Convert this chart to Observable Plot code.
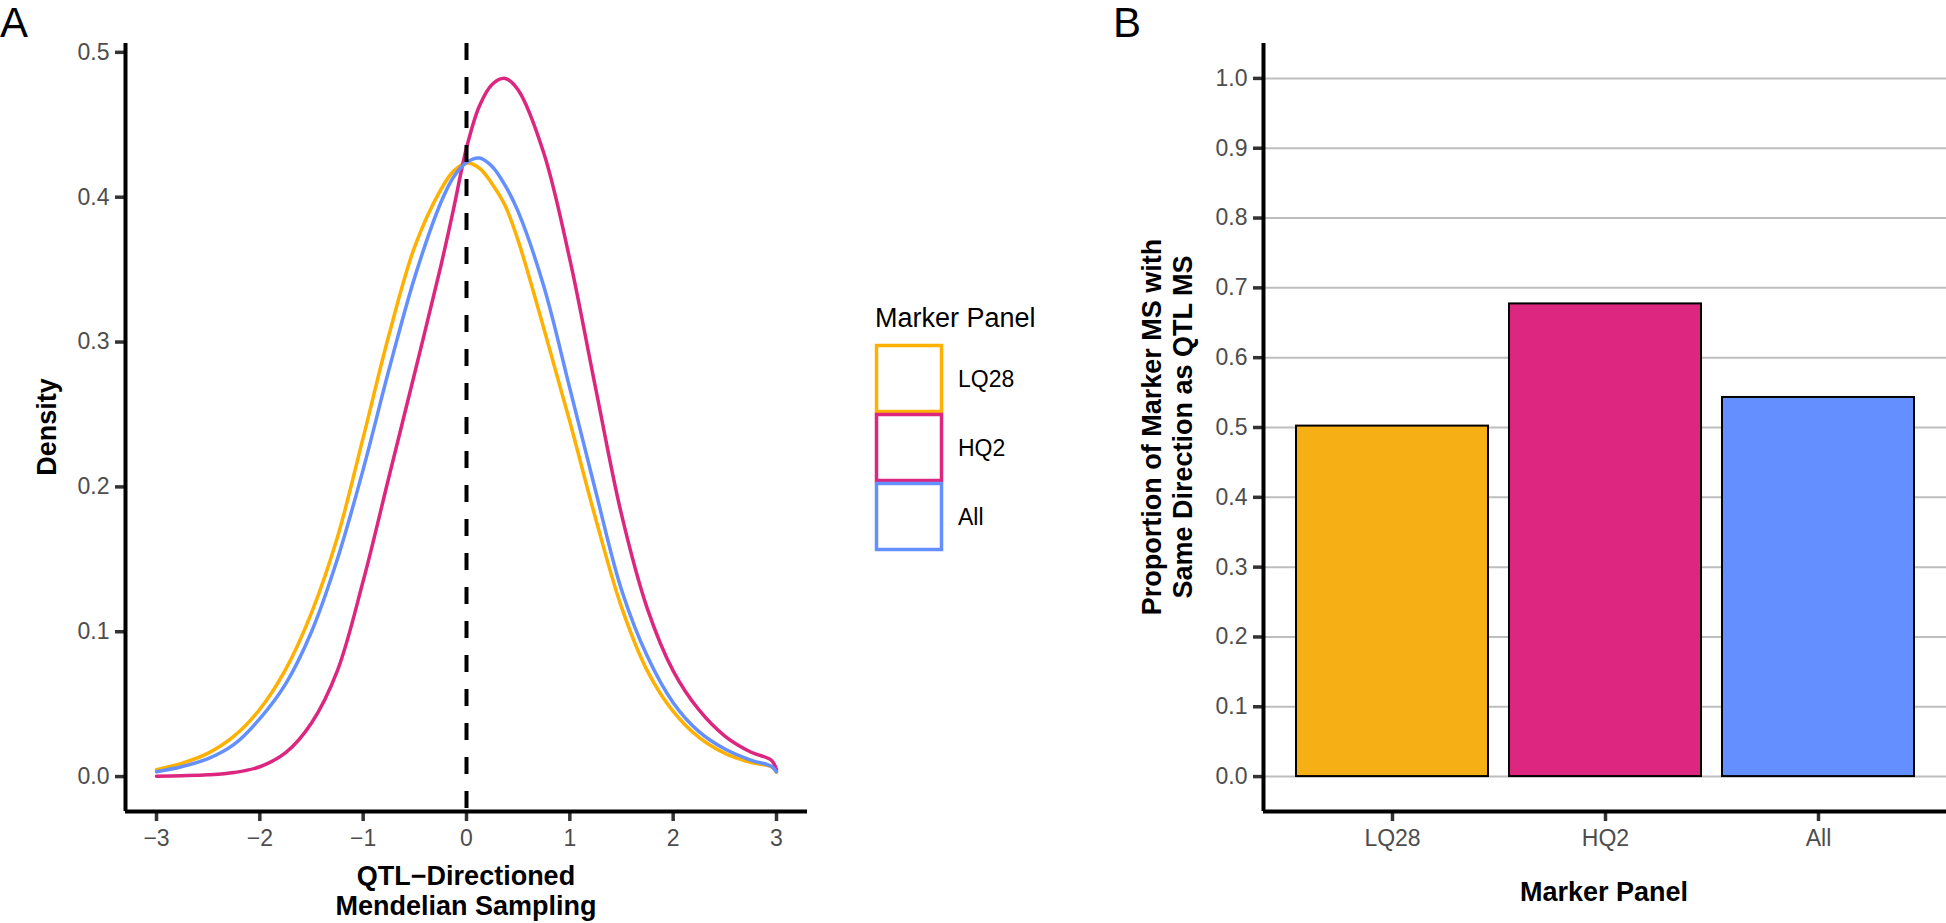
<!DOCTYPE html>
<html>
<head>
<meta charset="utf-8">
<script src="https://cdn.jsdelivr.net/npm/d3@7"></script>
<script src="https://cdn.jsdelivr.net/npm/@observablehq/plot@0.6"></script>
<style>
  html, body { margin: 0; padding: 0; background: #fff; }
  #root { position: relative; width: 1946px; height: 923px; overflow: hidden;
          font-family: "Liberation Sans", Arial, Helvetica, sans-serif; }
  .abs { position: absolute; }
  .title { position: absolute; font-weight: bold; font-size: 27px; color: #000;
           white-space: nowrap; text-align: center; line-height: 30px; }
  .tag { position: absolute; font-size: 42px; color: #000; line-height: 1; }
</style>
</head>
<body>
<div id="root"></div>
<script>
// ---------------- data ----------------
const panels = ["LQ28", "HQ2", "All"];
const lineColors = ["#FFB000", "#DC267F", "#648FFF"];
const barColors = ["#F6B016", "#DC267F", "#648FFF"];

// QTL-directioned Mendelian sampling grid (x) and density
const msX = [-3, -2.75, -2.5, -2.25, -2, -1.75, -1.5, -1.25, -1, -0.75, -0.5, -0.25, -0.125,
             0, 0.125, 0.25, 0.375, 0.5, 0.75, 1, 1.25, 1.5, 1.75, 2, 2.25, 2.5, 2.75, 2.95, 3];
const densLQ28 = [0.0048, 0.0093, 0.0162, 0.0279, 0.0465, 0.074, 0.113, 0.165, 0.234, 0.305, 0.366, 0.405, 0.418,
                  0.4235, 0.420, 0.409, 0.394, 0.370, 0.309, 0.245, 0.178, 0.117, 0.073, 0.045, 0.027, 0.016, 0.0098, 0.0068, 0.003];
const densHQ2  = [0.0003, 0.0006, 0.0012, 0.0028, 0.0068, 0.0165, 0.037, 0.073, 0.135, 0.207, 0.279, 0.352, 0.392,
                  0.434, 0.463, 0.478, 0.482, 0.474, 0.430, 0.357, 0.268, 0.181, 0.116, 0.073, 0.046, 0.028, 0.017, 0.0113, 0.0048];
const densAll  = [0.0034, 0.007, 0.0124, 0.0222, 0.040, 0.064, 0.100, 0.150, 0.212, 0.281, 0.345, 0.396, 0.414,
                  0.424, 0.427, 0.421, 0.408, 0.390, 0.338, 0.268, 0.197, 0.129, 0.083, 0.051, 0.031, 0.019, 0.0114, 0.0071, 0.0034];

// proportion of marker MS with same direction as QTL MS
const propSame = [0.502, 0.677, 0.543];

// tick labels
const densTicksX = [-3, -2, -1, 0, 1, 2, 3];
const densTicksY = [0.0, 0.1, 0.2, 0.3, 0.4, 0.5];
const propTicksY = [0.0, 0.1, 0.2, 0.3, 0.4, 0.5, 0.6, 0.7, 0.8, 0.9, 1.0];

// ---------------- build ----------------
const FONT = '"Liberation Sans", Arial, Helvetica, sans-serif';
const root = document.getElementById("root");

const densSeries = [densLQ28, densHQ2, densAll];
const densData = [];
panels.forEach((p, i) => msX.forEach((x, j) => densData.push({panel: p, x, y: densSeries[i][j]})));
const barData = panels.map((p, i) => ({panel: p, value: propSame[i]}));

// ggplot-like expanded domains
const xExt = d3.extent(msX);
const xPad = (xExt[1] - xExt[0]) * 0.05;
const xDomA = [xExt[0] - xPad, xExt[1] + xPad];
const yMaxA = d3.max(densData, d => d.y);
const yDomA = [-yMaxA * 0.05, yMaxA * 1.05];
const yDomB = [propTicksY[0] - 0.05, propTicksY[propTicksY.length - 1] + 0.05];

const axisStyle = {
  fontFamily: FONT, fontSize: "23px", color: "#4d4d4d",
  background: "transparent", overflow: "visible"
};

const plotA = Plot.plot({
  width: 830, height: 923,
  marginLeft: 125, marginRight: 23, marginTop: 43, marginBottom: 112,
  x: {domain: xDomA},
  y: {domain: yDomA},
  color: {domain: panels, range: lineColors},
  style: axisStyle,
  marks: [
    Plot.line(densData, {x: "x", y: "y", z: "panel", stroke: "panel", strokeWidth: 3.5, curve: "catmull-rom"}),
    Plot.ruleX([0], {stroke: "#000", strokeWidth: 4, strokeDasharray: "17,17"}),
    Plot.axisX(densTicksX, {tickSize: 10, tickPadding: 8, stroke: "#333", strokeWidth: 3.5, fill: "#4d4d4d", label: null}),
    Plot.axisY(densTicksY, {tickSize: 10, tickPadding: 6, stroke: "#333", strokeWidth: 3.5, fill: "#4d4d4d",
                            tickFormat: d3.format(".1f"), label: null}),
    Plot.ruleX([xDomA[0]], {stroke: "#000", strokeWidth: 4}),
    Plot.ruleY([yDomA[0]], {stroke: "#000", strokeWidth: 4})
  ]
});
plotA.classList.add("abs");
plotA.style.left = "0px";
plotA.style.top = "0px";
root.appendChild(plotA);

const plotB = Plot.plot({
  width: 846, height: 923,
  marginLeft: 163, marginRight: 0, marginTop: 43, marginBottom: 112,
  x: {domain: panels, paddingInner: 0.1, paddingOuter: 0.15},
  y: {domain: yDomB},
  color: {domain: panels, range: barColors},
  style: axisStyle,
  marks: [
    Plot.gridY(propTicksY, {stroke: "#bebebe", strokeOpacity: 1, strokeWidth: 2}),
    Plot.barY(barData, {x: "panel", y: "value", fill: "panel", stroke: "#000", strokeWidth: 2}),
    Plot.axisX(panels, {tickSize: 10, tickPadding: 8, stroke: "#333", strokeWidth: 3.5, fill: "#4d4d4d", label: null}),
    Plot.axisY(propTicksY, {tickSize: 10, tickPadding: 6, stroke: "#333", strokeWidth: 3.5, fill: "#4d4d4d",
                            tickFormat: d3.format(".1f"), label: null}),
    Plot.ruleY([yDomB[0]], {stroke: "#000", strokeWidth: 4})
  ]
});
plotB.classList.add("abs");
plotB.style.left = "1100px";
plotB.style.top = "0px";
root.appendChild(plotB);

// y-axis line of panel B (left frame edge)
const frameB = Plot.plot({
  width: 846, height: 923,
  marginLeft: 163, marginRight: 0, marginTop: 43, marginBottom: 112,
  x: {domain: [0, 1]}, y: {domain: yDomB}, axis: null,
  style: {background: "transparent", overflow: "visible"},
  marks: [Plot.ruleX([0], {stroke: "#000", strokeWidth: 4})]
});
frameB.classList.add("abs");
frameB.style.left = "1100px";
frameB.style.top = "0px";
root.appendChild(frameB);

// legend
const legend = d3.select(root).append("svg")
  .attr("class", "abs").style("left", "0px").style("top", "0px")
  .attr("width", 1946).attr("height", 923)
  .style("font-family", FONT);
legend.append("text").attr("x", 875).attr("y", 327)
  .attr("font-size", 27).attr("fill", "#000").text("Marker Panel");
const keyH = 69, keyTop = 344;
panels.forEach((p, i) => {
  legend.append("rect").attr("x", 876.5).attr("y", keyTop + i * keyH + 1.5)
    .attr("width", 65).attr("height", keyH - 3)
    .attr("fill", "#fff").attr("stroke", lineColors[i]).attr("stroke-width", 3.5);
  legend.append("text").attr("x", 958).attr("y", keyTop + i * keyH + keyH / 2 + 8)
    .attr("font-size", 23).attr("fill", "#000").text(p);
});

// titles & panel tags
function addDiv(cls, html, css) {
  const d = document.createElement("div");
  d.className = cls; d.innerHTML = html;
  Object.assign(d.style, css);
  root.appendChild(d);
}
addDiv("tag", "A", {left: "0px", top: "2px"});
addDiv("tag", "B", {left: "1113px", top: "2px"});
addDiv("title", "Density", {left: "47px", top: "427px", transform: "translate(-50%,-50%) rotate(-90deg)"});
addDiv("title", "QTL\u2212Directioned<br>Mendelian Sampling", {left: "466px", top: "891px", transform: "translate(-50%,-50%)"});
addDiv("title", "Marker Panel", {left: "1604px", top: "892px", transform: "translate(-50%,-50%)"});
addDiv("title", "Proportion of Marker MS with<br>Same Direction as QTL MS",
       {left: "1168px", top: "427px", lineHeight: "31px", transform: "translate(-50%,-50%) rotate(-90deg)"});
</script>
</body>
</html>
